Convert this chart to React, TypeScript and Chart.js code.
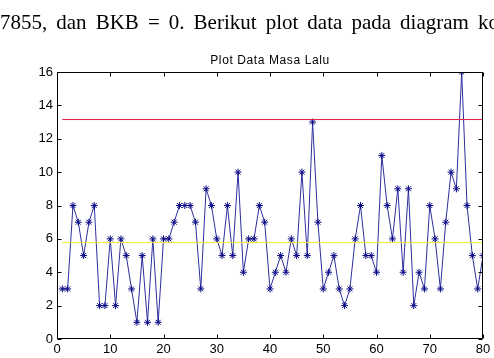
import { useEffect, useRef } from "react";
import { Chart, registerables } from "chart.js";

Chart.register(...registerables);

const observations = [
  3, 3, 8, 7, 5, 7, 8, 2, 2, 6,
  2, 6, 5, 3, 1, 5, 1, 6, 1, 6,
  6, 7, 8, 8, 8, 7, 3, 9, 8, 6,
  5, 8, 5, 10, 4, 6, 6, 8, 7, 3,
  4, 5, 4, 6, 5, 10, 5, 13, 7, 3,
  4, 5, 3, 2, 3, 6, 8, 5, 5, 4,
  11, 8, 6, 9, 4, 9, 2, 4, 3, 8,
  6, 3, 7, 10, 9, 16, 8, 5, 3, 5,
];
const centerLine = 5.775;
const upperLimit = 13.15;
const xTickValues = [0, 10, 20, 30, 40, 50, 60, 70, 80];
const yTickValues = [0, 2, 4, 6, 8, 10, 12, 14, 16];
const chartTitle = "Plot Data Masa Lalu";
const docText = "7855, dan BKB = 0. Berikut plot data pada diagram kontrol";

const FONT = "'Liberation Sans', Arial, Helvetica, sans-serif";

const framePlugin = {
  id: "matlabFrame",
  afterDraw(chart: any) {
    const { ctx, chartArea, scales } = chart;
    const { left, right, top, bottom } = chartArea;
    const L = Math.round(left) + 0.5;
    const R = Math.round(right) - 0.5;
    const T = Math.round(top) + 0.5;
    const B = Math.round(bottom) - 0.5;
    ctx.save();
    ctx.strokeStyle = "#000";
    ctx.lineWidth = 1;
    ctx.beginPath();
    ctx.rect(L, T, R - L, B - T);
    const tl = 4;
    scales.x.ticks.forEach((t: any) => {
      const px = Math.round(scales.x.getPixelForValue(t.value)) + 0.5;
      ctx.moveTo(px, B);
      ctx.lineTo(px, B - tl);
      ctx.moveTo(px, T);
      ctx.lineTo(px, T + tl);
    });
    scales.y.ticks.forEach((t: any) => {
      const py = Math.round(scales.y.getPixelForValue(t.value)) + 0.5;
      ctx.moveTo(L, py);
      ctx.lineTo(L + tl, py);
      ctx.moveTo(R, py);
      ctx.lineTo(R - tl, py);
    });
    ctx.stroke();
    ctx.fillStyle = "#000";
    ctx.font = `12px ${FONT}`;
    ctx.textAlign = "center";
    ctx.textBaseline = "middle";
    (ctx as any).letterSpacing = "0.6px";
    ctx.fillText(chartTitle, (left + right) / 2, top - 11.5);
    ctx.restore();
  },
};

export default function App() {
  const canvasRef = useRef<HTMLCanvasElement | null>(null);

  useEffect(() => {
    document.body.style.margin = "0";
    const canvas = canvasRef.current;
    if (!canvas) return;
    const chart = new Chart(canvas, {
      type: "scatter",
      data: {
        datasets: [
          {
            label: "BKA",
            data: [
              { x: 1, y: upperLimit },
              { x: observations.length, y: upperLimit },
            ],
            showLine: true,
            borderColor: "#e8183c",
            borderWidth: 1,
            pointRadius: 0,
          },
          {
            label: "GT",
            data: [
              { x: 1, y: centerLine },
              { x: observations.length, y: centerLine },
            ],
            showLine: true,
            borderColor: "#ecec2c",
            borderWidth: 1,
            pointRadius: 0,
          },
          {
            label: "Data",
            data: observations.map((v, i) => ({ x: i + 1, y: v })),
            showLine: true,
            borderColor: "#2e2e9e",
            borderWidth: 1,
            pointStyle: "star",
            pointRadius: 3.5,
            pointBorderWidth: 1,
            pointBorderColor: "#0a0a86",
            pointBackgroundColor: "#0a0a86",
          },
        ],
      },
      options: {
        animation: false,
        responsive: false,
        events: [],
        layout: { padding: { top: 72, right: 11, left: 0, bottom: 0 } },
        plugins: {
          legend: { display: false },
          tooltip: { enabled: false },
          title: { display: false },
        },
        scales: {
          x: {
            type: "linear",
            min: 0,
            max: 80,
            afterBuildTicks: (s: any) => {
              s.ticks = xTickValues.map((v) => ({ value: v }));
            },
            afterFit: (s: any) => {
              s.height = 19;
            },
            grid: { display: false, drawTicks: false },
            border: { display: false },
            ticks: {
              padding: 3,
              maxRotation: 0,
              color: "#000",
              font: { family: FONT, size: 13 },
            },
          },
          y: {
            type: "linear",
            min: 0,
            max: 16,
            afterBuildTicks: (s: any) => {
              s.ticks = yTickValues.map((v) => ({ value: v }));
            },
            afterFit: (s: any) => {
              s.width = 57;
            },
            grid: { display: false, drawTicks: false },
            border: { display: false },
            ticks: {
              padding: 4,
              color: "#000",
              font: { family: FONT, size: 13 },
            },
          },
        },
      },
      plugins: [framePlugin],
    });
    return () => chart.destroy();
  }, []);

  return (
    <div
      style={{
        position: "fixed",
        left: 0,
        top: 0,
        width: 494,
        height: 358,
        background: "#fff",
        overflow: "hidden",
      }}
    >
      <canvas
        ref={canvasRef}
        width={494}
        height={358}
        style={{ position: "absolute", left: 0, top: 0, width: 494, height: 358 }}
      />
      <div
        style={{
          position: "absolute",
          left: 0,
          top: 12,
          fontFamily: "'Liberation Serif', 'Times New Roman', serif",
          fontSize: 21,
          lineHeight: "21px",
          whiteSpace: "nowrap",
          wordSpacing: "3.8px",
          color: "#000",
        }}
      >
        {docText}
      </div>
    </div>
  );
}
